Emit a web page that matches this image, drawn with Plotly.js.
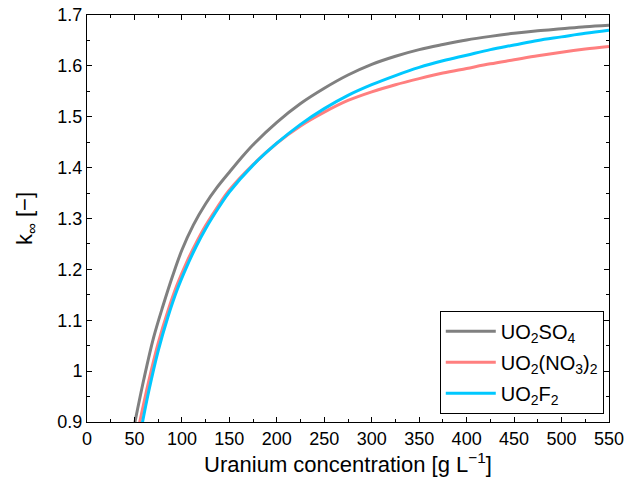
<!DOCTYPE html>
<html>
<head>
<meta charset="utf-8">
<script src="https://cdn.plot.ly/plotly-3.0.1.min.js"></script>
<style>html,body{margin:0;padding:0;background:#fff;}#chart{width:625px;height:483px;}</style>
</head>
<body>
<div id="chart"></div>
<script>
// Uranium concentration [g/L] and k-infinity values
const xSO4 = [50, 60, 70, 80, 90, 100, 112, 125, 137, 150, 162, 175, 200, 225, 250, 275, 300, 325, 350, 375, 400, 425, 450, 475, 500, 525, 550];
const kSO4 = [0.895, 0.985, 1.065, 1.128, 1.186, 1.238, 1.287, 1.329, 1.361, 1.391, 1.418, 1.445, 1.489, 1.526, 1.556, 1.582, 1.603, 1.619, 1.632, 1.642, 1.651, 1.658, 1.664, 1.669, 1.673, 1.677, 1.680];

const xNO3 = [55, 65, 75, 85, 95, 105, 115, 125, 140, 150, 175, 200, 225, 250, 275, 300, 325, 350, 375, 400, 425, 450, 475, 500, 525, 550];
const kNO3 = [0.895, 0.98, 1.055, 1.117, 1.170, 1.214, 1.252, 1.286, 1.330, 1.356, 1.406, 1.448, 1.482, 1.509, 1.532, 1.549, 1.563, 1.575, 1.586, 1.595, 1.604, 1.612, 1.620, 1.627, 1.633, 1.638];

const xF2 = [58, 65, 75, 85, 95, 105, 115, 125, 140, 150, 175, 200, 225, 250, 275, 300, 325, 350, 375, 400, 425, 450, 475, 500, 525, 550];
const kF2 = [0.895, 0.96, 1.04, 1.105, 1.160, 1.205, 1.245, 1.280, 1.325, 1.352, 1.405, 1.448, 1.485, 1.516, 1.542, 1.563, 1.581, 1.597, 1.610, 1.621, 1.632, 1.641, 1.650, 1.657, 1.664, 1.670];

const names = ['UO<sub>2</sub>SO<sub>4</sub>', 'UO<sub>2</sub>(NO<sub>3</sub>)<sub>2</sub>', 'UO<sub>2</sub>F<sub>2</sub>'];
const colors = ['#808080', '#ff7f7f', '#00c8ff'];
const xs = [xSO4, xNO3, xF2];
const ys = [kSO4, kNO3, kF2];

const traces = xs.map((x, i) => ({
  x: x, y: ys[i], name: names[i], type: 'scatter', mode: 'lines',
  legendgroup: 'g' + i,
  line: {color: colors[i], width: 3, shape: 'spline', smoothing: 1}
}));

const fam = 'Liberation Sans, Arial, sans-serif';
const axisCommon = {
  showgrid: false, zeroline: false, showline: true, linecolor: '#000', linewidth: 1,
  mirror: 'allticks', ticks: 'inside', ticklen: 5, tickcolor: '#000', tickwidth: 1,
  tickfont: {family: fam, size: 18, color: '#000'},
  minor: {ticks: 'inside', ticklen: 3, tickcolor: '#000', tickwidth: 1}
};

const layout = {
  width: 625, height: 483,
  margin: {l: 87, r: 16, t: 15, b: 61},
  paper_bgcolor: '#fff', plot_bgcolor: '#fff',
  font: {family: fam, color: '#000'},
  showlegend: true,
  xaxis: Object.assign({}, axisCommon, {
    range: [0, 550], dtick: 50, tick0: 0,
    minor: Object.assign({}, axisCommon.minor, {dtick: 25}),
    title: {text: 'Uranium concentration [g L<sup>\u22121</sup>]', font: {family: fam, size: 22, color: '#000'}, standoff: 6}
  }),
  yaxis: Object.assign({}, axisCommon, {
    range: [0.9, 1.7], dtick: 0.1, tick0: 0.9,
    minor: Object.assign({}, axisCommon.minor, {dtick: 0.05}),
    title: {text: 'k<sub>\u221e</sub> [\u2212]', font: {family: fam, size: 22, color: '#000'}, standoff: 18}
  }),
  legend: {
    x: 0.99, y: 0.02, xanchor: 'right', yanchor: 'bottom',
    bgcolor: '#fff', bordercolor: '#000', borderwidth: 1,
    font: {family: fam, size: 20, color: '#000'},
    itemwidth: 50,
    tracegroupgap: 2
  }
};

Plotly.newPlot('chart', traces, layout, {displayModeBar: false, staticPlot: true});
</script>
</body>
</html>
